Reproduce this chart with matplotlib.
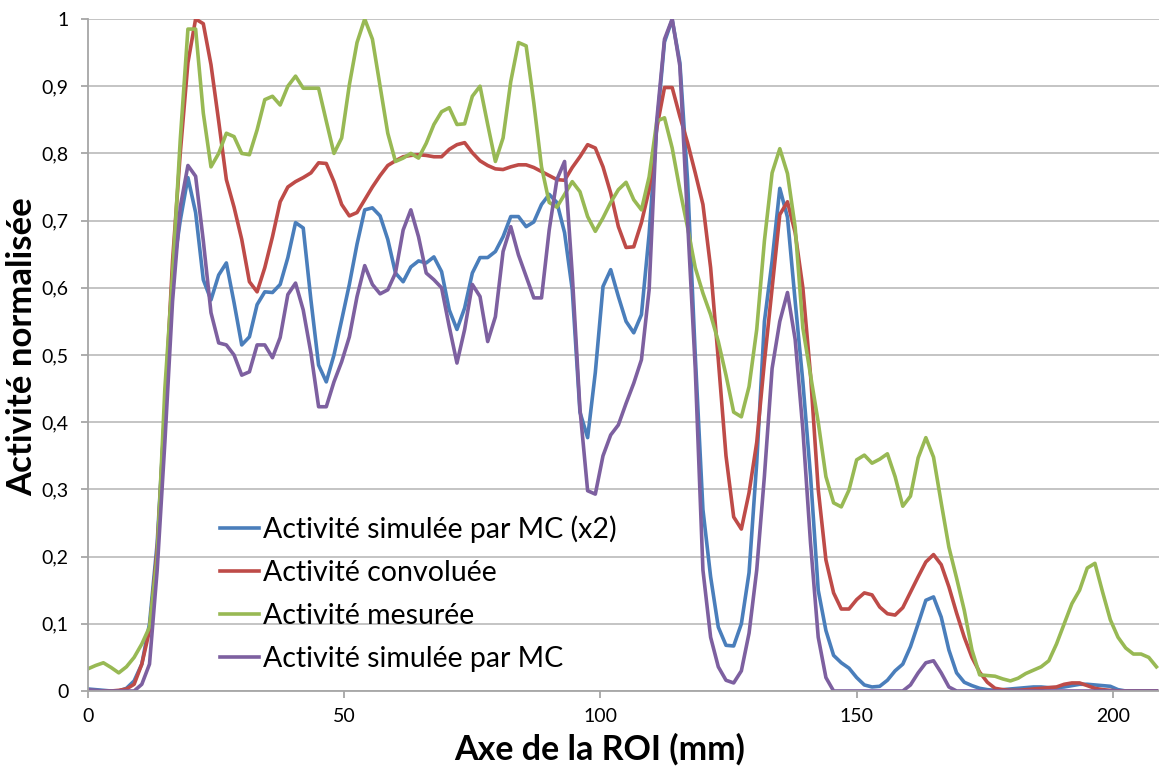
import numpy as np
import matplotlib
matplotlib.use("Agg")
import matplotlib.pyplot as plt
from matplotlib.ticker import FuncFormatter

plt.rcParams['font.family'] = ['Lato', 'DejaVu Sans']

step_mm = 1.5
mc_x2 = [0.003, 0.002, 0.001, 0.0, 0.0, 0.004, 0.015, 0.04, 0.10, 0.22,
         0.42, 0.62, 0.70, 0.764, 0.712, 0.612, 0.582, 0.619, 0.637, 0.578,
         0.515, 0.527, 0.575, 0.594, 0.593, 0.605, 0.645, 0.697, 0.689, 0.582,
         0.485, 0.46, 0.50, 0.552, 0.605, 0.665, 0.716, 0.719, 0.707, 0.672,
         0.622, 0.609, 0.631, 0.64, 0.637, 0.646, 0.624, 0.567, 0.538, 0.57,
         0.622, 0.645, 0.645, 0.654, 0.676, 0.706, 0.706, 0.691, 0.698, 0.724,
         0.739, 0.727, 0.682, 0.597, 0.415, 0.377, 0.474, 0.602, 0.627, 0.587,
         0.55, 0.533, 0.56, 0.68, 0.84, 0.966, 0.999, 0.935, 0.76, 0.50,
         0.27, 0.17, 0.095, 0.068, 0.067, 0.10, 0.176, 0.34, 0.55, 0.64,
         0.748, 0.705, 0.58, 0.46, 0.32, 0.15, 0.09, 0.053, 0.042, 0.034,
         0.02, 0.009, 0.006, 0.007, 0.016, 0.03, 0.04, 0.066, 0.10, 0.135,
         0.14, 0.11, 0.061, 0.027, 0.013, 0.008, 0.004, 0.002, 0.001, 0.002,
         0.003, 0.004, 0.005, 0.006, 0.006, 0.005, 0.005, 0.006, 0.008, 0.01,
         0.01, 0.009, 0.008, 0.007, 0.002, 0.0, 0.0, 0.0, 0.0, 0.0]
convolved = [0.0, 0.0, 0.0, 0.0, 0.001, 0.003, 0.01, 0.04, 0.09, 0.21,
             0.42, 0.64, 0.80, 0.935, 1.0, 0.993, 0.932, 0.848, 0.761, 0.72,
             0.672, 0.609, 0.594, 0.63, 0.676, 0.728, 0.75, 0.758, 0.764, 0.771,
             0.786, 0.785, 0.758, 0.724, 0.707, 0.712, 0.731, 0.75, 0.767, 0.782,
             0.789, 0.795, 0.797, 0.798, 0.797, 0.795, 0.795, 0.806, 0.813, 0.816,
             0.801, 0.789, 0.782, 0.777, 0.776, 0.78, 0.783, 0.783, 0.779, 0.773,
             0.767, 0.761, 0.76, 0.779, 0.795, 0.813, 0.808, 0.78, 0.741, 0.691,
             0.66, 0.661, 0.697, 0.746, 0.838, 0.898, 0.898, 0.855, 0.816, 0.771,
             0.724, 0.63, 0.493, 0.35, 0.259, 0.241, 0.295, 0.37, 0.49, 0.60,
             0.709, 0.728, 0.682, 0.60, 0.47, 0.30, 0.195, 0.146, 0.122, 0.122,
             0.136, 0.146, 0.143, 0.125, 0.115, 0.113, 0.124, 0.147, 0.17, 0.192,
             0.203, 0.188, 0.155, 0.116, 0.08, 0.05, 0.028, 0.013, 0.004, 0.002,
             0.001, 0.001, 0.002, 0.003, 0.004, 0.005, 0.006, 0.01, 0.012, 0.012,
             0.008, 0.004, 0.002, 0.001, 0.0, 0.0, 0.0, 0.0, 0.0, 0.0]
measured = [0.033, 0.038, 0.042, 0.035, 0.027, 0.036, 0.05, 0.07, 0.095, 0.20,
            0.45, 0.62, 0.82, 0.985, 0.985, 0.86, 0.78, 0.80, 0.83, 0.825,
            0.80, 0.798, 0.835, 0.88, 0.885, 0.872, 0.90, 0.915, 0.897, 0.897,
            0.897, 0.848, 0.80, 0.823, 0.902, 0.965, 1.0, 0.97, 0.90, 0.83,
            0.788, 0.793, 0.80, 0.793, 0.815, 0.843, 0.862, 0.868, 0.843, 0.844,
            0.885, 0.90, 0.843, 0.788, 0.823, 0.907, 0.965, 0.96, 0.875, 0.78,
            0.727, 0.72, 0.739, 0.758, 0.743, 0.706, 0.684, 0.704, 0.727, 0.746,
            0.757, 0.731, 0.716, 0.765, 0.848, 0.853, 0.808, 0.746, 0.69, 0.63,
            0.592, 0.56, 0.52, 0.47, 0.415, 0.408, 0.453, 0.538, 0.67, 0.771,
            0.807, 0.77, 0.69, 0.54, 0.47, 0.40, 0.319, 0.28, 0.274, 0.299,
            0.344, 0.351, 0.339, 0.345, 0.353, 0.319, 0.275, 0.29, 0.347, 0.377,
            0.348, 0.28, 0.214, 0.168, 0.12, 0.061, 0.024, 0.023, 0.022, 0.018,
            0.015, 0.019, 0.026, 0.031, 0.036, 0.045, 0.07, 0.10, 0.13, 0.15,
            0.183, 0.19, 0.147, 0.106, 0.08, 0.064, 0.055, 0.055, 0.05, 0.036]
mc = [0.002, 0.001, 0.0, 0.0, 0.0, 0.0, 0.0, 0.01, 0.04, 0.18,
      0.37, 0.58, 0.72, 0.782, 0.766, 0.67, 0.563, 0.518, 0.515, 0.50,
      0.47, 0.475, 0.515, 0.515, 0.496, 0.526, 0.59, 0.607, 0.567, 0.503,
      0.423, 0.423, 0.46, 0.49, 0.527, 0.587, 0.633, 0.605, 0.591, 0.597,
      0.622, 0.686, 0.716, 0.676, 0.622, 0.612, 0.60, 0.542, 0.488, 0.538,
      0.605, 0.587, 0.52, 0.557, 0.654, 0.691, 0.649, 0.617, 0.585, 0.585,
      0.686, 0.761, 0.788, 0.62, 0.42, 0.298, 0.293, 0.35, 0.381, 0.396,
      0.428, 0.458, 0.493, 0.597, 0.85, 0.97, 1.0, 0.93, 0.70, 0.48,
      0.18, 0.08, 0.036, 0.016, 0.012, 0.03, 0.086, 0.18, 0.32, 0.48,
      0.55, 0.593, 0.523, 0.389, 0.22, 0.08, 0.02, 0.0, 0.0, 0.0,
      0.0, 0.0, 0.0, 0.0, 0.0, 0.0, 0.0, 0.009, 0.027, 0.042,
      0.045, 0.027, 0.006, 0.0, 0.0, 0.0, 0.0, 0.0, 0.0, 0.0,
      0.0, 0.0, 0.0, 0.0, 0.0, 0.0, 0.0, 0.0, 0.0, 0.0,
      0.0, 0.0, 0.0, 0.0, 0.0, 0.0, 0.0, 0.0, 0.0, 0.0]

labels = ["Activité simulée par MC (x2)", "Activité convoluée",
          "Activité mesurée", "Activité simulée par MC"]
colors = ["#4A7EBB", "#BE4B48", "#98B954", "#7D60A0"]
series = [mc_x2, convolved, measured, mc]

x_mm = np.arange(len(measured)) * step_mm

fig = plt.figure(figsize=(11.59, 7.67), dpi=100)
ax = fig.add_axes([88/1159, 1 - 691/767, 1 - 88/1159, (691 - 19)/767])

for ys, c, lab in zip(series, colors, labels):
    ax.plot(x_mm, ys, color=c, lw=2.6, label=lab, solid_joinstyle='round')

ax.set_xlim(0, 209)
ax.set_ylim(0, 1)
ax.set_xticks([0, 50, 100, 150, 200])
ax.set_yticks(np.arange(0, 1.01, 0.1))
ax.yaxis.set_major_formatter(FuncFormatter(lambda v, p: ("%g" % round(v, 1)).replace('.', ',')))
ax.grid(axis='y', color='#BFBFBF', lw=1.3)
ax.set_axisbelow(True)
for s in ['top', 'right']:
    ax.spines[s].set_visible(False)
for s in ['left', 'bottom']:
    ax.spines[s].set_color('#A6A6A6')
    ax.spines[s].set_linewidth(1.3)
ax.tick_params(axis='both', colors='#A6A6A6', length=5, width=1.3, labelsize=14,
               labelcolor='black')
ax.tick_params(axis='y', pad=9)
ax.tick_params(axis='x', pad=7)

ax.set_xlabel("Axe de la ROI (mm)", fontsize=24.5, fontweight='bold', va='baseline')
ax.xaxis.set_label_coords((600 - 88) / 1071, -(760 - 691) / 672)
ax.set_ylabel("Activité normalisée", fontsize=25, fontweight='bold')
ax.yaxis.set_label_coords(-0.0467, (691 - 347) / 672)

ax.legend(loc='upper left', bbox_to_anchor=(0.0995, 0.30), frameon=False,
          fontsize=20.5, handlelength=1.35, handletextpad=0.15, labelspacing=0.6,
          borderpad=0.4)

fig.savefig("out.png", dpi=100)
